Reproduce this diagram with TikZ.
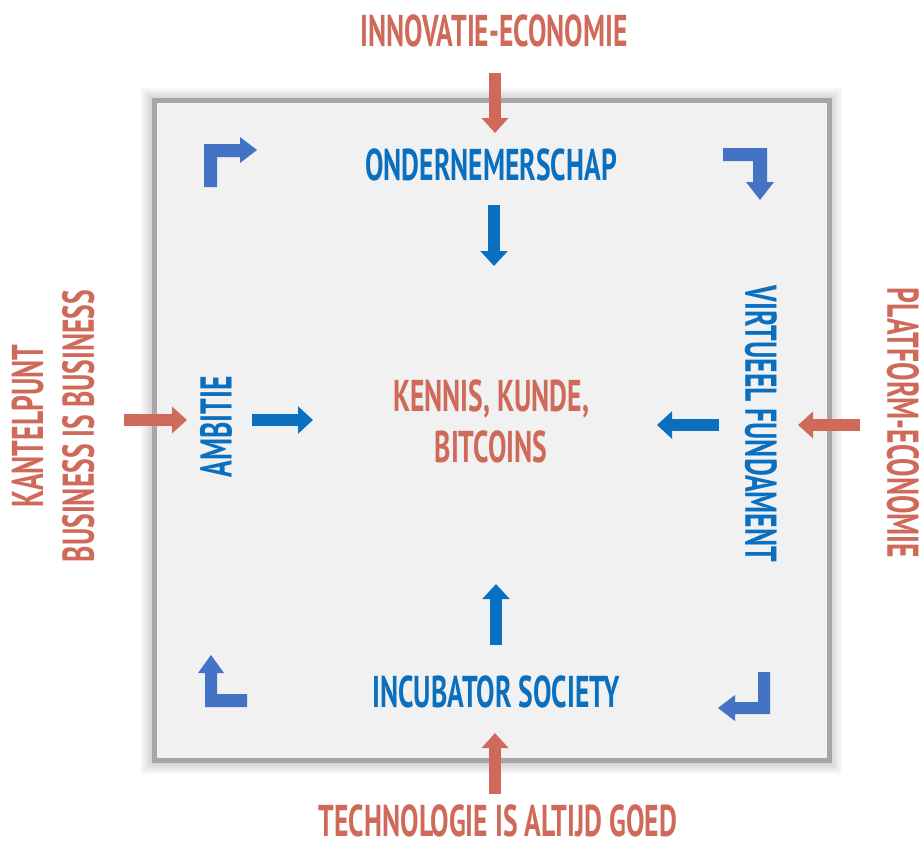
\documentclass[tikz,border=0pt]{standalone}
\usepackage{fontspec}
\setmainfont{PT Sans}[FakeStretch=0.62]
\usetikzlibrary{arrows.meta}
\definecolor{titlered}{HTML}{CF6A5A}
\definecolor{labelblue}{HTML}{0A6FBF}
\definecolor{bendblue}{HTML}{4472C4}
\definecolor{panelgray}{HTML}{F1F1F1}
\definecolor{framegray}{HTML}{A6A6A6}
\tikzset{
  redlabel/.style={text=titlered, font=\fontsize{38}{43.5}\selectfont\bfseries, inner sep=0pt, align=center},
  bluelabel/.style={text=labelblue, font=\fontsize{38}{41}\selectfont\bfseries, inner sep=0pt, align=center},
  redarrow/.style={draw=titlered, line width=3.6mm, -{Triangle[width=7.8mm,length=4.5mm]}},
  bluearrow/.style={draw=labelblue, line width=3.8mm, -{Triangle[width=8mm,length=4.5mm]}}
}
\begin{document}
\begin{tikzpicture}[x=0.3mm, y=-0.3mm]
    \useasboundingbox[fill=white] (0,0) rectangle (922,849);
    \foreach \w in {8,7,...,2} \draw[black, opacity=0.025, line width=\w mm] (154,101) rectangle (829,761);
    \fill[panelgray] (154,100) rectangle (829,760);
    \draw[framegray, line width=1.5mm] (154,100) rectangle (829,760);
    \node[redlabel] (innov) at (494,31) {INNOVATIE-ECONOMIE};
    \node[redlabel] (techno) at (498,821) {TECHNOLOGIE IS ALTIJD GOED};
    \node[redlabel, rotate=90] (kantel) at (53,426) {KANTELPUNT\\BUSINESS IS BUSINESS};
    \node[redlabel, rotate=-90] (platform) at (903,423) {PLATFORM-ECONOMIE};
    \node[bluelabel] (onder) at (491,165) {ONDERNEMERSCHAP};
    \node[bluelabel] (incub) at (496,692) {INCUBATOR SOCIETY};
    \node[bluelabel, rotate=90] (ambitie) at (216,427) {AMBITIE};
    \node[bluelabel, rotate=-90] (virtueel) at (761,424) {VIRTUEEL FUNDAMENT};
    \node[redlabel] (kennis) at (491,421) {KENNIS, KUNDE,\\BITCOINS};
    \coordinate (topfrom) at (495,73);
    \coordinate (topto) at (495,133);
    \coordinate (botfrom) at (495,794);
    \coordinate (botto) at (495,733);
    \coordinate (leftfrom) at (124,420);
    \coordinate (leftto) at (187,420);
    \coordinate (rightfrom) at (860,425);
    \coordinate (rightto) at (798,425);
    \draw[redarrow] (topfrom) -- (topto);
    \draw[redarrow] (botfrom) -- (botto);
    \draw[redarrow] (leftfrom) -- (leftto);
    \draw[redarrow] (rightfrom) -- (rightto);
    \coordinate (onderfrom) at (494,205);
    \coordinate (onderto) at (494,266);
    \coordinate (incubfrom) at (496,645);
    \coordinate (incubto) at (496,584);
    \coordinate (ambitiefrom) at (252,420);
    \coordinate (ambitieto) at (313,420);
    \coordinate (virtueelfrom) at (719,425);
    \coordinate (virtueelto) at (657,425);
    \draw[bluearrow] (onderfrom) -- (onderto);
    \draw[bluearrow] (incubfrom) -- (incubto);
    \draw[bluearrow] (ambitiefrom) -- (ambitieto);
    \draw[bluearrow] (virtueelfrom) -- (virtueelto);
    \fill[bendblue] (204,187) -- (204,144) -- (240,144) -- (240,137) -- (257,150) -- (240,163) -- (240,157) -- (217,157) -- (217,187) -- cycle;
    \fill[bendblue] (723,148) -- (767,148) -- (767,182) -- (774,182) -- (760,200) -- (746,182) -- (753,182) -- (753,161) -- (723,161) -- cycle;
    \fill[bendblue] (247,707) -- (205,707) -- (205,673) -- (198,673) -- (211,655) -- (224,673) -- (217,673) -- (217,694) -- (247,694) -- cycle;
    \fill[bendblue] (770,672) -- (770,714) -- (735,714) -- (735,721) -- (718,708) -- (735,695) -- (735,702) -- (758,702) -- (758,672) -- cycle;
\end{tikzpicture}
\end{document}
